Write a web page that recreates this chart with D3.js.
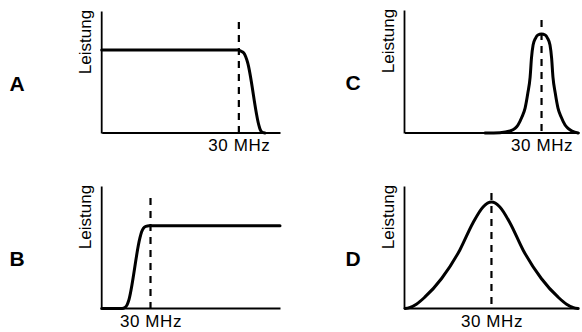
<!DOCTYPE html>
<html><head><meta charset="utf-8">
<script src="https://cdn.jsdelivr.net/npm/d3@7"></script>
<style>body{margin:0;background:#fff}svg{display:block}</style>
</head><body>
<svg id="chart" width="582" height="332"></svg>
<script>
// ---- data ----
const panelIds = ["A", "B", "C", "D"];
const yLabel = "Leistung";
const markerFreq = 30;
const markerLabel = "30 MHz";

// frequency (MHz) / relative power (0..1)
const freqA  = [0, 29.8, 30.5, 31.1, 31.5, 31.9, 34.4, 34.7, 35.1, 35.7];
const powerA = [0.68, 0.68, 0.67, 0.655, 0.625, 0.58, 0.06, 0.025, 0.006, 0];

const freqB  = [0, 12.5, 14.3, 15.6, 16.5, 23.5, 24.5, 25.7, 27.2, 29.1, 109.6];
const powerB = [0, 0, 0.008, 0.029, 0.061, 0.576, 0.624, 0.657, 0.671, 0.676, 0.676];

const freqC  = [17.6, 20.9, 23.1, 24.2, 24.85, 25.7, 26.4, 27.0, 27.5, 27.8, 28.15, 28.7, 29.2, 30,
                30.8, 31.3, 31.85, 32.2, 32.5, 33.0, 33.6, 34.3, 35.15, 35.8, 36.7, 38.0];
const powerC = [0, 0.003, 0.016, 0.037, 0.065, 0.13, 0.203, 0.325, 0.455, 0.61, 0.715, 0.772, 0.797, 0.805,
                0.797, 0.772, 0.715, 0.61, 0.455, 0.325, 0.203, 0.13, 0.065, 0.037, 0.016, 0];

const freqD  = [0.2, 1.7, 4.1, 6.9, 12.8, 19.1, 23.6, 27.1, 30, 32.9, 36.4, 40.9, 47.2, 53.1, 55.9, 58.3, 59.8];
const powerD = [0, 0.007, 0.035, 0.09, 0.245, 0.478, 0.698, 0.829, 0.869, 0.829, 0.698, 0.478, 0.245, 0.09, 0.035, 0.007, 0];

const freqMax = {A: 39, B: 109.6, C: 38.2, D: 60.2};
const series = {
  A: {f: freqA, p: powerA},
  B: {f: freqB, p: powerB},
  C: {f: freqC, p: powerC},
  D: {f: freqD, p: powerD}
};

// ---- layout ----
const layout = {
  A: {x0: 101.7, x1: 280, yTop: 11,  yBase: 133,   dashTop: 22,  lx: 17,  ly: 90.5},
  B: {x0: 101.7, x1: 280, yTop: 186, yBase: 308.5, dashTop: 198, lx: 17,  ly: 265.5},
  C: {x0: 404.5, x1: 579, yTop: 10,  yBase: 133,   dashTop: 20,  lx: 353, ly: 89.5},
  D: {x0: 404.5, x1: 579, yTop: 186, yBase: 308.5, dashTop: 193, lx: 353, ly: 265.5}
};
const FONT = "'Liberation Sans', Arial, Helvetica, sans-serif";

const svg = d3.select("#chart");

panelIds.forEach(id => {
  const L = layout[id];
  const x = d3.scaleLinear().domain([0, freqMax[id]]).range([L.x0, L.x1]);
  const y = d3.scaleLinear().domain([0, 1]).range([L.yBase, L.yTop]);
  const g = svg.append("g");

  // panel letter
  g.append("text")
    .attr("x", L.lx).attr("y", L.ly)
    .attr("text-anchor", "middle")
    .style("font-family", FONT).style("font-weight", "bold").style("font-size", "21px")
    .text(id);

  // x axis
  const xAxis = d3.axisBottom(x).tickValues([markerFreq]).tickSize(0).tickSizeOuter(0)
    .tickPadding(6.5).tickFormat(() => markerLabel);
  const gx = g.append("g").attr("transform", `translate(0,${L.yBase - 0.5})`).call(xAxis);
  gx.select(".domain").attr("stroke", "#000").attr("stroke-width", 1.8);
  gx.selectAll("text").style("font-family", FONT).style("font-size", "17px")
    .style("letter-spacing", "0.6px").attr("fill", "#000");

  // y axis
  const yAxis = d3.axisLeft(y).tickValues([]).tickSizeOuter(0);
  const gy = g.append("g").attr("transform", `translate(${L.x0 - 0.5},0)`).call(yAxis);
  gy.select(".domain").attr("stroke", "#000").attr("stroke-width", 1.8);

  // y label
  g.append("text")
    .attr("transform", `translate(${L.x0 - 11},${L.yTop + 31}) rotate(-90)`)
    .attr("text-anchor", "middle")
    .style("font-family", FONT).style("font-size", "17px")
    .text(yLabel);

  // dashed marker line at 30 MHz
  g.append("line")
    .attr("x1", x(markerFreq)).attr("x2", x(markerFreq))
    .attr("y1", L.dashTop).attr("y2", y(0))
    .attr("stroke", "#000").attr("stroke-width", 2.2)
    .attr("stroke-dasharray", "7,6");

  // curve
  const s = series[id];
  const pts = s.f.map((f, i) => [f, s.p[i]]);
  const line = d3.line().x(d => x(d[0])).y(d => y(d[1])).curve(d3.curveMonotoneX);
  g.append("path").datum(pts)
    .attr("d", line)
    .attr("fill", "none").attr("stroke", "#000").attr("stroke-width", 3)
    .attr("stroke-linejoin", "round").attr("stroke-linecap", "round");
});
</script>
</body></html>
